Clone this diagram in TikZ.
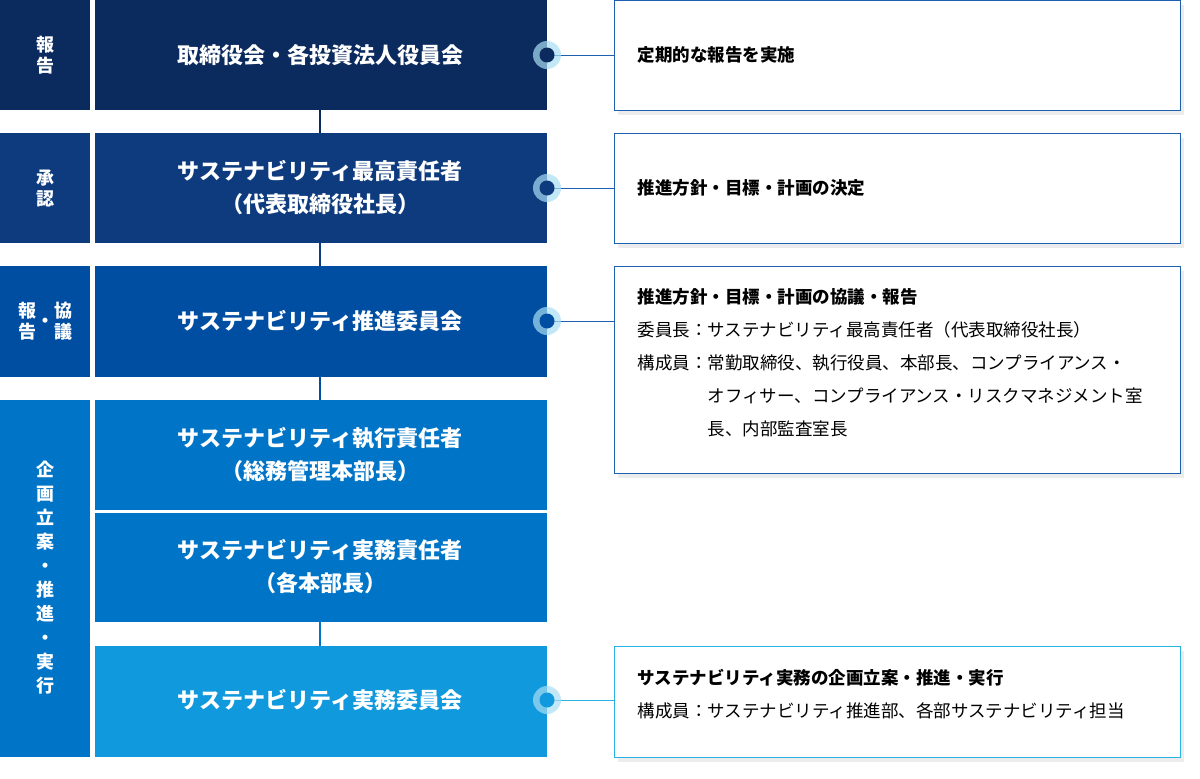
\documentclass[tikz,border=0pt]{standalone}
\usepackage{fontspec}
\setmainfont{Noto Sans CJK JP}
\usetikzlibrary{shadows}
\definecolor{navyA}{HTML}{0B2A5E}
\definecolor{navyB}{HTML}{0D3B7E}
\definecolor{blueC}{HTML}{004EA2}
\definecolor{blueD}{HTML}{0075C8}
\definecolor{blueE}{HTML}{1199DD}
\definecolor{ringC}{HTML}{A8DDF3}
\definecolor{lineA}{HTML}{1F5FAF}
\definecolor{lineB}{HTML}{29B3E3}
\tikzset{
  side/.style={draw=none,text=white,font=\bfseries\fontsize{18}{21}\selectfont,align=center,inner sep=0pt},
  main/.style={draw=none,text=white,font=\bfseries\fontsize{22}{33}\selectfont,align=center},
  note/.style={draw=#1,fill=white,line width=1pt,drop shadow={opacity=0.15,shadow xshift=3pt,shadow yshift=-4pt}},
  notetext/.style={anchor=west,font=\fontsize{17.5}{33}\selectfont,align=left},
}
\begin{document}
\begin{tikzpicture}[x=1pt,y=-1pt]
\useasboundingbox (0,0) rectangle (1200,779);
% connectors
\draw[navyA,line width=1.5pt] (320,110) -- (320,133);
\draw[navyB,line width=1.5pt] (320,243) -- (320,266);
\draw[blueC,line width=1.5pt] (320,377) -- (320,400);
\draw[blueD,line width=1.5pt] (320,622) -- (320,646);
% left labels
\fill[navyA] (0,0) rectangle (90,110);
\node[side] (l1) at (45,55) {報\\告};
\fill[navyB] (0,133) rectangle (90,243);
\node[side] (l2) at (45,188) {承\\認};
\fill[blueC] (0,266) rectangle (90,377);
\node[side] (l3a) at (28,321) {報\\告};
\node[side] (l3b) at (63,321) {協\\議};
\node[side] (l3d) at (45.5,323) {・};
\fill[blueD] (0,400) rectangle (90,757);
\node[side,font=\bfseries\fontsize{18}{24}\selectfont] (l4) at (45,578) {企\\画\\立\\案\\・\\推\\進\\・\\実\\行};
% main boxes
\fill[navyA] (95,0) rectangle (547,110);
\node[main] (m1) at (320,55) {取締役会・各投資法人役員会};
\fill[navyB] (95,133) rectangle (547,243);
\node[main] (m2) at (320,188) {サステナビリティ最高責任者\\（代表取締役社長）};
\fill[blueC] (95,266) rectangle (547,377);
\node[main] (m3) at (320,321) {サステナビリティ推進委員会};
\fill[blueD] (95,400) rectangle (547,510);
\node[main] (m4) at (320,455) {サステナビリティ執行責任者\\（総務管理本部長）};
\fill[blueD] (95,513) rectangle (547,622);
\node[main] (m5) at (320,567) {サステナビリティ実務責任者\\（各本部長）};
\fill[blueE] (95,646) rectangle (547,757);
\node[main] (m6) at (320,700) {サステナビリティ実務委員会};
% note boxes
\node[note=lineA,minimum width=566pt,minimum height=110pt,anchor=north west] (n1) at (614,0) {};
\node[note=lineA,minimum width=566pt,minimum height=110pt,anchor=north west] (n2) at (614,133) {};
\node[note=lineA,minimum width=566pt,minimum height=207pt,anchor=north west] (n3) at (614,266) {};
\node[note=lineB,minimum width=566pt,minimum height=111pt,anchor=north west] (n4) at (614,646) {};
\node[notetext] (t1) at (634,55) {\bfseries 定期的な報告を実施};
\node[notetext] (t2) at (634,188) {\bfseries 推進方針・目標・計画の決定};
\node[notetext,anchor=north west] (t3) at (634,285) {\bfseries 推進方針・目標・計画の協議・報告\\
委員長：サステナビリティ最高責任者（代表取締役社長）\\
構成員：常勤取締役、執行役員、本部長、コンプライアンス・\\
\hspace{4em}オフィサー、コンプライアンス・リスクマネジメント室\\
\hspace{4em}長、内部監査室長};
\node[notetext,anchor=north west] (t4) at (634,666) {\bfseries サステナビリティ実務の企画立案・推進・実行\\
構成員：サステナビリティ推進部、各部サステナビリティ担当};
% dots and links
\foreach \y/\c/\n/\l in {55/navyA/n1/lineA,188/navyB/n2/lineA,321/blueC/n3/lineA,700/blueE/n4/lineB}{
  \coordinate (d\n) at (547,\y);
  \draw[\l,line width=1pt] (d\n) -- (\n.west |- d\n);
  \fill[ringC,opacity=0.7] (d\n) circle (14);
  \fill[\c] (d\n) circle (7.5);
}
\end{tikzpicture}
\end{document}
